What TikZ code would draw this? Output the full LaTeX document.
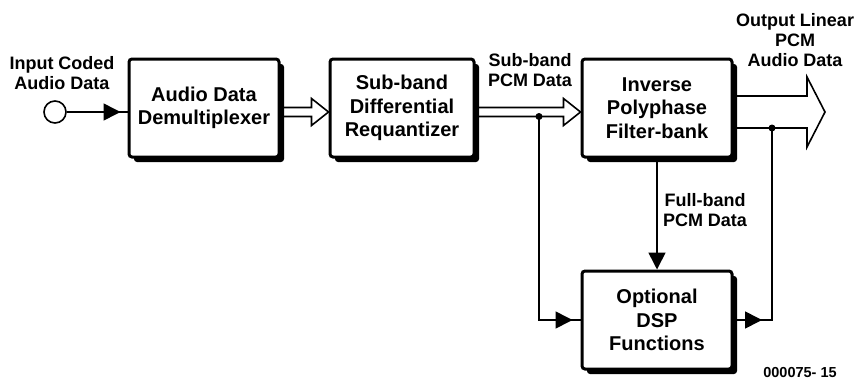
\documentclass[tikz,border=0pt]{standalone}
\usepackage{fontspec}
\setmainfont{Liberation Sans}
\usepackage{tikz}
\usetikzlibrary{positioning, calc, arrows.meta, shadows}

% open outline arrow: start, tip, shaft half width, head half width, head length
\newcommand{\hollowarrow}[5]{%
  \draw[line width=1.6pt, line join=miter]
    ($(#1)+(0,-#3)$) -- ($(#2)+(-#5,-#3)$) -- ($(#2)+(-#5,-#4)$) -- (#2)
    -- ($(#2)+(-#5,#4)$) -- ($(#2)+(-#5,#3)$) -- ($(#1)+(0,#3)$);
}

\begin{document}
\begin{tikzpicture}[x=1pt, y=-1pt,
    block/.style={rectangle, draw, line width=3pt, rounded corners=3pt, fill=white,
      minimum width=150pt, minimum height=98pt, align=center,
      font=\fontsize{20}{23.5}\selectfont\bfseries,
      drop shadow={shadow xshift=5pt, shadow yshift=-5pt, fill=black, opacity=1}},
    lbl/.style={align=center, inner sep=0pt, font=\fontsize{18}{20}\selectfont\bfseries},
    wire/.style={line width=1.6pt},
    tip/.style={-{Triangle[length=17pt, width=17pt]}}
  ]
  \useasboundingbox (0,0) rectangle (858,380);

  % blocks
  \node[block] (demux) at (204,108) {Audio Data\\Demultiplexer};
  \node[block, minimum width=144pt] (requant) at (402,108) {Sub-band\\Differential\\Requantizer};
  \node[block] (filter) at (657,108) {Inverse\\Polyphase\\Filter-bank};
  \node[block] (dsp) at (657,320) {Optional\\DSP\\Functions};

  % input
  \node[circle, draw, wire, minimum size=22pt, inner sep=0pt] (in) at (55,112) {};
  \node[lbl] (inlbl) at (62,73) {Input Coded\\Audio Data};
  \coordinate (row) at (0,112);
  \draw[wire] (in) -- (demux.west |- row);
  \draw[wire, tip, shorten >=7pt] (in) -- (demux.west |- row);

  % data paths
  \hollowarrow{demux.east |- row}{requant.west |- row}{4.5}{13.5}{17}
  \hollowarrow{requant.east |- row}{filter.west |- row}{4.5}{13.5}{17}
  \coordinate (out) at (825,112);
  \hollowarrow{filter.east |- row}{out}{16}{35}{18}

  \node[lbl] (sublbl) at (530,70) {Sub-band\\PCM Data};
  \node[lbl] (outlbl) at (795,40) {Output Linear\\PCM\\Audio Data};

  % taps to DSP
  \coordinate (tap1) at (539,116.5);
  \coordinate (tap2) at (772,128);
  \fill (tap1) circle (3.5pt);
  \fill (tap2) circle (3.5pt);
  \draw[wire] (tap1) |- (dsp.west);
  \draw[wire, tip, shorten >=8pt] (tap1 |- dsp.west) -- (dsp.west);
  \draw[wire] (dsp.east) -| (tap2);
  \draw[wire, tip, shorten >=10pt] (dsp.east) -- (tap2 |- dsp.east);

  \draw[wire, tip] (filter.south) -- (dsp.north);
  \node[lbl] (fulllbl) at (705,210) {Full-band\\PCM Data};

  \node[inner sep=0pt, font=\fontsize{14.5}{16}\selectfont\bfseries] (code) at (800,373) {000075- 15};
\end{tikzpicture}
\end{document}
